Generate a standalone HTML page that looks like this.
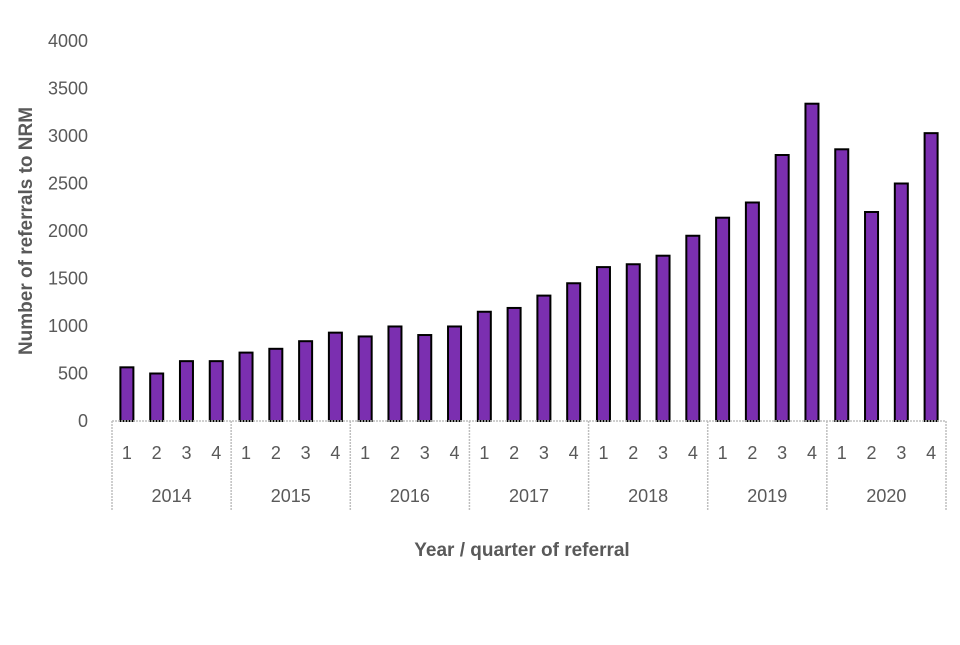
<!DOCTYPE html>
<html><head><meta charset="utf-8"><style>
body{margin:0;background:#fff;width:960px;height:640px;overflow:hidden}
svg text{font-family:"Liberation Sans",sans-serif;fill:#595959}
</style></head><body>
<svg id="c" width="960" height="640">
<text x="32" y="380" transform="rotate(-90 32 227)" font-size="19" font-weight="bold" text-anchor="middle"></text>
</svg>
<script>
const years=["2014","2015","2016","2017","2018","2019","2020"];
const quarters=["1","2","3","4"];
const values=[565,500,630,630,720,760,840,930,890,995,905,995,1150,1190,1320,1450,1620,1650,1740,1950,2140,2300,2800,3340,2860,2200,2500,3030];
const yTicks=[0,500,1000,1500,2000,2500,3000,3500,4000];
const svg=document.getElementById('c');
const NS="http://www.w3.org/2000/svg";
const x0=112,x1=946,y0=421,yTop=41,yMax=4000;
const slot=(x1-x0)/values.length;
const y=v=>y0-(v/yMax)*(y0-yTop);
const xc=i=>x0+slot*(i+0.5);
function mk(t,a,txt){const e=document.createElementNS(NS,t);for(const k in a)e.setAttribute(k,a[k]);if(txt!==undefined)e.textContent=txt;svg.appendChild(e);return e;}
const yt=svg.querySelector('text');
yt.setAttribute('x',32);yt.setAttribute('y',231);yt.setAttribute('transform','rotate(-90 32 231)');yt.textContent='Number of referrals to NRM';
yTicks.forEach(v=>{const t=mk('text',{x:88,y:y(v)+6,'font-size':18,'text-anchor':'end'},String(v));

});
values.forEach((v,i)=>{const r=mk('rect',{x:xc(i)-6.5,y:y(v),width:13,height:y0-y(v),fill:'#7B2FB0',stroke:'#000','stroke-width':2});


const t=mk('text',{x:xc(i),y:459,'font-size':18,'text-anchor':'middle'},quarters[i%4]);

});
const ax=mk('line',{x1:x0,y1:y0,x2:x1,y2:y0,stroke:'#bfbfbf','stroke-width':1.5,'stroke-dasharray':'2 1'});


for(let k=0;k<=years.length;k++){const xx=x0+k*4*slot;
const l=mk('line',{x1:xx,y1:y0,x2:xx,y2:510,stroke:'#bfbfbf','stroke-width':1.5,'stroke-dasharray':'2 1'});


if(k<years.length){const t=mk('text',{x:xx+2*slot,y:502,'font-size':18,'text-anchor':'middle'},years[k]);

}}
const xt=mk('text',{x:522,y:556,'font-size':19,'font-weight':'bold','text-anchor':'middle'},'Year / quarter of referral');


</script>
</body></html>
